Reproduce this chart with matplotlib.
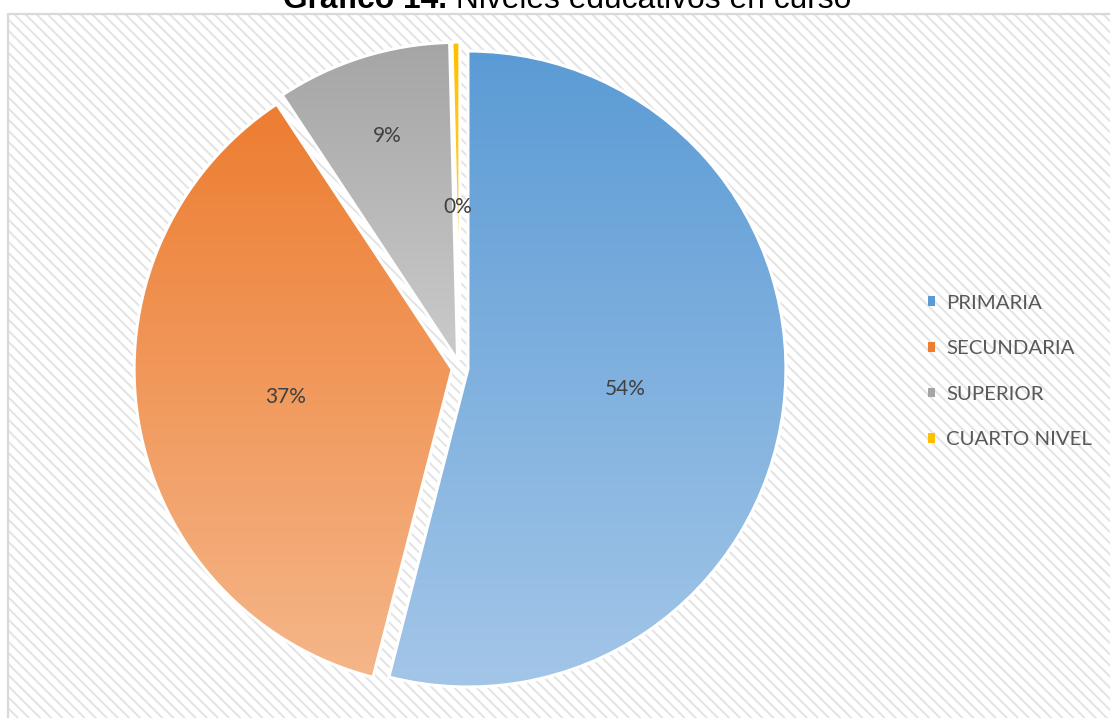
import numpy as np
import matplotlib
matplotlib.use('Agg')
import matplotlib.pyplot as plt
from matplotlib.patches import Rectangle, Patch
from matplotlib.colors import LinearSegmentedColormap

# Datos del gráfico
categorias = ['PRIMARIA', 'SECUNDARIA', 'SUPERIOR', 'CUARTO NIVEL']
porcentajes = [54.0, 36.7, 8.9, 0.4]

# Colores (arriba -> abajo del degradado)
col_arriba = ['#5B9BD5', '#ED7D31', '#A5A5A5', '#FFC000']
col_abajo = ['#A3C6E8', '#F5B689', '#CBCBCB', '#FFD966']
dist_etiq = [0.50, 0.53, 0.74, 0.48]

W, H = 1110, 718
plt.rcParams['hatch.color'] = '#E3E3E3'
plt.rcParams['hatch.linewidth'] = 1.4

fig = plt.figure(figsize=(W / 100, H / 100), dpi=100)
ax = fig.add_axes([0, 0, 1, 1])

# Fondo con rayas diagonales y borde
ax.add_patch(Rectangle((8, -10), W, H - 14 + 10, facecolor='white',
                       edgecolor='#E3E3E3', hatch='\\\\\\', lw=0, zorder=-2))
ax.add_patch(Rectangle((8, -10), W, H - 14 + 10, facecolor='none',
                       edgecolor='#D9D9D9', lw=1.6, zorder=-1))

cx, cy, r = 460, H - 368, 318
wedges, textos, autot = ax.pie(
    porcentajes, explode=[8] * len(porcentajes), center=(cx, cy), radius=r,
    startangle=90, counterclock=False, autopct='%1.0f%%', pctdistance=0.52,
    textprops=dict(family='Lato', fontsize=15, color='#404040'))

# Relleno degradado en cada porción
for w, ca, cb in zip(wedges, col_arriba, col_abajo):
    bb = w.get_path().get_extents()
    cmap = LinearSegmentedColormap.from_list('g', [ca, cb])
    grad = np.linspace(0, 1, 256)[:, None]
    im = ax.imshow(grad, cmap=cmap, extent=(bb.x0, bb.x1, bb.y0, bb.y1),
                   origin='upper', aspect='auto', zorder=1)
    im.set_clip_path(w)
    w.set_facecolor('none')
    w.set_edgecolor('white')
    w.set_linewidth(2.2)
    w.set_zorder(2)

# Posición de las etiquetas
for w, t, d in zip(wedges, autot, dist_etiq):
    ang = np.deg2rad((w.theta1 + w.theta2) / 2)
    x0, y0 = w.center
    t.set_position((x0 + d * w.r * np.cos(ang), y0 + d * w.r * np.sin(ang)))
    t.set_zorder(3)

ax.set_xlim(0, W)
ax.set_ylim(0, H)
ax.set_aspect('auto')
ax.axis('off')

# Leyenda
manejadores = [Patch(facecolor=c, edgecolor='none') for c in col_arriba]
ax.legend(manejadores, categorias, loc='center left',
          bbox_to_anchor=(0.8286, 0.4825), frameon=False,
          prop=dict(family='Lato', size=14.7), labelcolor='#595959',
          handlelength=0.36, handleheight=0.36, handletextpad=0.55,
          labelspacing=1.40, borderaxespad=0)

# Título (parte en negrita + parte normal)
fs = 22.9
t1 = fig.text(0, 1 - 8.3 / H, 'Gráfico 14.', fontsize=fs, fontweight='bold',
              family='Liberation Sans', va='baseline', ha='left')
t2 = fig.text(0, 1 - 8.3 / H, ' Niveles educativos en curso', fontsize=fs,
              family='Liberation Sans', va='baseline', ha='left')
ren = fig.canvas.get_renderer()
w1 = t1.get_window_extent(ren).width
w2 = t2.get_window_extent(ren).width
x_ini = 567 - (w1 + w2) / 2
t1.set_x(x_ini / W)
t2.set_x((x_ini + w1) / W)

fig.savefig('out.png', dpi=100)
